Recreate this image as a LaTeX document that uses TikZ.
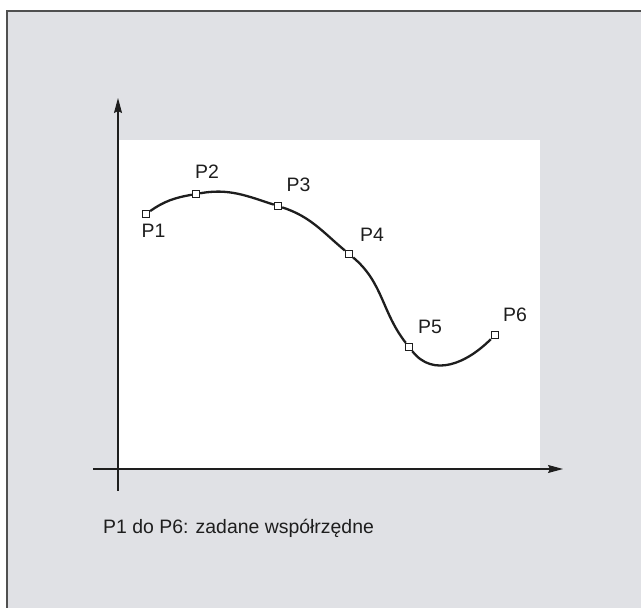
\documentclass[tikz,border=0pt]{standalone}
\usepackage{fontspec}
\setmainfont{Liberation Sans}
\usepackage{xcolor}
\usepackage{tikz}
\usetikzlibrary{arrows.meta,positioning}
\definecolor{panelc}{HTML}{E0E1E5}
\definecolor{framec}{HTML}{505050}
\definecolor{inkc}{HTML}{1E1E1E}
\tikzset{
  ax/.style={-{Stealth[length=15bp,width=8bp,inset=2bp]},line width=1.1bp,inkc},
  pt/.style={rectangle,draw=inkc,line width=0.8bp,fill=white,minimum size=7.5bp,inner sep=0pt},
  lab/.style={font=\fontsize{19.5}{23}\selectfont,text=inkc,inner sep=0pt}
}
\begin{document}
\begin{tikzpicture}[x=1bp,y=1bp]
\useasboundingbox (0,0) rectangle (641,608);
\fill[panelc] (7,0) rectangle (641,597);
\draw[framec,line width=1.5bp] (7,0)--(7,597)--(641,597);
\fill[white] (118,139) rectangle (540,468);
% axes
\coordinate (xa) at (93,139);
\coordinate (xb) at (563,139);
\coordinate (ya) at (118,117);
\coordinate (yb) at (118,510);
\draw[ax] (xa)--(xb);
\draw[ax] (ya)--(yb);
% points
\node[pt] (p1) at (146,394) {};
\node[pt] (p2) at (196,414) {};
\node[pt] (p3) at (278,402) {};
\node[pt] (p4) at (349,354) {};
\node[pt] (p5) at (409,261) {};
\node[pt] (p6) at (495,273) {};
\draw[inkc,line width=2.3bp] (p1) to[out=35,in=190] (p2)
  to[out=10,in=162] (p3)
  to[out=-18,in=140] (p4)
  to[out=-40,in=128] (p5)
  to[out=-52,in=225,looseness=1.1] (p6);
\node[lab] (l1) at (153.5,377.5) {P1};
\node[lab] (l2) at (207,436.5) {P2};
\node[lab] (l3) at (298.5,423.5) {P3};
\node[lab] (l4) at (372,373) {P4};
\node[lab] (l5) at (430,281) {P5};
\node[lab] (l6) at (515,293) {P6};
\node[lab,anchor=base west] (cap) at (103,74) {P1 do P6: zadane współrzędne};
\end{tikzpicture}
\end{document}
